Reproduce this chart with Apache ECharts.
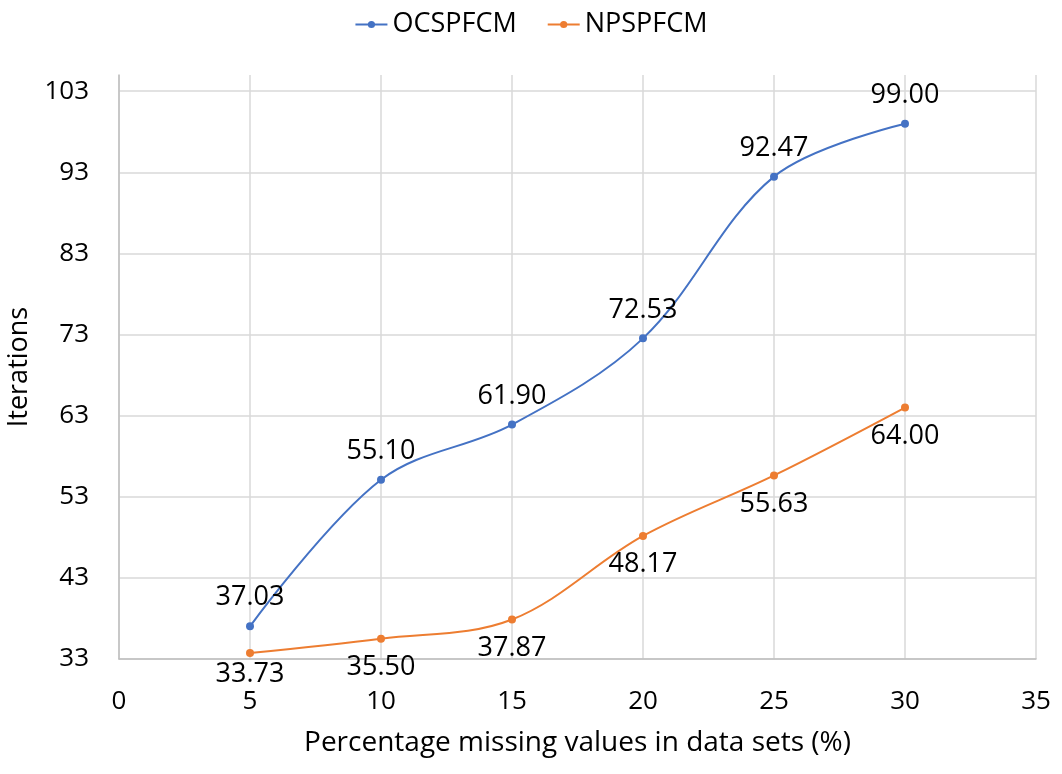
<!DOCTYPE html>
<html>
<head>
<meta charset="utf-8">
<title>Iterations vs missing values</title>
<script src="https://cdn.jsdelivr.net/npm/echarts@6/dist/echarts.min.js"></script>
<style>
  html, body { margin: 0; padding: 0; background: #fff; }
  #viz { width: 1062px; height: 774px; }
</style>
</head>
<body>
<div id="viz"></div>
<script>
// percentage of missing values (x)
const missingPct = [5, 10, 15, 20, 25, 30]
// average iterations per method
const ocspfcm = [37.03, 55.1, 61.9, 72.53, 92.47, 99.0]
const npspfcm = [33.73, 35.5, 37.87, 48.17, 55.63, 64.0]

const FONT = '"Open Sans", "Noto Sans", sans-serif'

// first orange label sits a bit tighter so it clears the x tick labels
const pairs = (ys, tightFirst) =>
  missingPct.map((x, i) =>
    tightFirst && i === 0 ? { value: [x, ys[i]], label: { distance: 4 } } : [x, ys[i]]
  )

const makeSeries = (name, ys, color, pos, tightFirst) => ({
  name,
  type: 'line',
  smooth: 0.35,
  symbol: 'circle',
  symbolSize: 8,
  data: pairs(ys, tightFirst),
  itemStyle: { color },
  lineStyle: { color, width: 2 },
  label: {
    show: true,
    position: pos,
    distance: 11,
    color: '#000',
    fontFamily: FONT,
    fontSize: 27,
    formatter: (p) => p.value[1].toFixed(2),
  },
})

const chart = echarts.init(document.getElementById('viz'))

chart.setOption({
  animation: false,
  textStyle: { fontFamily: FONT },
  legend: {
    top: 6,
    left: 'center',
    itemWidth: 32,
    itemHeight: 9,
    itemGap: 30,
    textStyle: { fontFamily: FONT, fontSize: 27, color: '#000' },
  },
  grid: { left: 119, right: 26, top: 75, bottom: 115, outerBoundsMode: 'none' },
  xAxis: {
    type: 'value',
    min: 0,
    max: 35,
    interval: 5,
    name: 'Percentage missing values in data sets (%)',
    nameLocation: 'middle',
    nameGap: 70,
    nameTextStyle: { fontFamily: FONT, fontSize: 28, color: '#000' },
    axisLine: { show: true, lineStyle: { color: '#BFBFBF', width: 1.5 } },
    axisTick: { show: false },
    axisLabel: { fontFamily: FONT, fontSize: 26, color: '#000', margin: 30 },
    splitLine: { show: true, lineStyle: { color: '#D9D9D9', width: 1.5 } },
  },
  yAxis: {
    type: 'value',
    min: 33,
    max: 105,
    interval: 10,
    name: 'Iterations',
    nameLocation: 'middle',
    nameGap: 86,
    nameTextStyle: { fontFamily: FONT, fontSize: 27, color: '#000' },
    axisLine: { show: true, lineStyle: { color: '#BFBFBF', width: 1.5 } },
    axisTick: { show: false },
    axisLabel: { fontFamily: FONT, fontSize: 26, color: '#000', margin: 30, showMaxLabel: false },
    splitLine: { show: true, showMaxLine: false, lineStyle: { color: '#D9D9D9', width: 1.5 } },
  },
  series: [
    makeSeries('OCSPFCM', ocspfcm, '#4472C4', 'top', false),
    makeSeries('NPSPFCM', npspfcm, '#ED7D31', 'bottom', true),
  ],
})
</script>
</body>
</html>
